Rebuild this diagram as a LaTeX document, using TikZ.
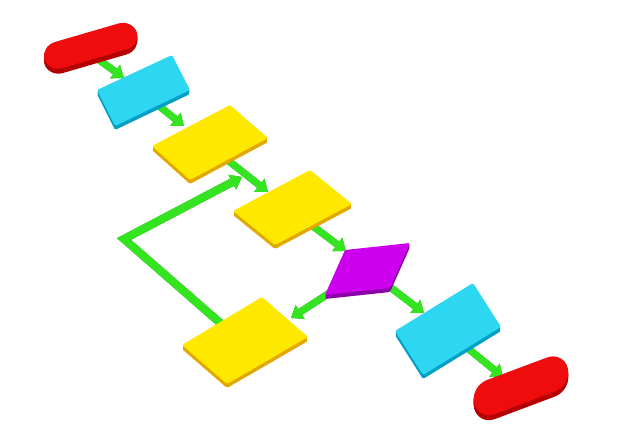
\documentclass[tikz,border=0pt]{standalone}
\usepackage{tikz}
\usetikzlibrary{arrows.meta}

\definecolor{termred}{RGB}{238,12,12}
\definecolor{termredside}{RGB}{180,0,0}
\definecolor{iocyan}{RGB}{45,215,242}
\definecolor{iocyanside}{RGB}{0,160,198}
\definecolor{procyellow}{RGB}{255,232,0}
\definecolor{procyellowside}{RGB}{226,168,0}
\definecolor{decmagenta}{RGB}{204,0,238}
\definecolor{decmagentaside}{RGB}{140,0,168}
\definecolor{flowgreen}{RGB}{52,228,32}
\definecolor{flowgreenside}{RGB}{26,150,16}

\tikzset{
  flow/.style = {line width = 7pt, color = flowgreen, line join = miter,
    -{Triangle[width = 16pt, length = 11pt]}},
  flowside/.style = {flow, color = flowgreenside, yshift = -1.5pt},
  loopflow/.style = {flow, line width = 8pt},
  loopflowside/.style = {loopflow, color = flowgreenside, yshift = -1.5pt}
}

% flat slab: top face #1, side #2, corners #3..#6
\newcommand{\slab}[6]{%
  \foreach \d in {1,...,4} {
    \fill[color = #2, rounded corners = 1.5pt, yshift = -\d pt] #3 -- #4 -- #5 -- #6 -- cycle;
  }
  \fill[color = #1, rounded corners = 1.5pt] #3 -- #4 -- #5 -- #6 -- cycle;
}

\begin{document}
\begin{tikzpicture}[x = 1pt, y = -1pt]
  \useasboundingbox (0, 0) rectangle (626, 444);
  \fill[white] (0, 0) rectangle (626, 444);

  % connector ends
  \coordinate (start-out) at (95, 57);
  \coordinate (input-in) at (124, 78);
  \coordinate (input-out) at (154, 102);
  \coordinate (step-a-in) at (184, 126);
  \coordinate (step-a-out) at (225, 158);
  \coordinate (step-b-in) at (268, 192);
  \coordinate (step-b-out) at (310, 224);
  \coordinate (choice-in) at (346, 251);
  \coordinate (choice-yes) at (386, 284);
  \coordinate (output-in) at (424, 313);
  \coordinate (output-out) at (465, 346);
  \coordinate (end-in) at (503, 377);
  \coordinate (choice-no) at (334, 290);
  \coordinate (step-c-in) at (291, 318);
  \coordinate (step-c-out) at (226, 328);
  \coordinate (loop-corner) at (124, 239);
  \coordinate (loop-in) at (242, 177);

  % arrows, under the blocks
  \draw[loopflowside] (step-c-out) -- (loop-corner) -- (loop-in);
  \draw[loopflow] (step-c-out) -- (loop-corner) -- (loop-in);

  \draw[flowside] (start-out) -- (input-in);
  \draw[flow] (start-out) -- (input-in);
  \draw[flowside] (input-out) -- (step-a-in);
  \draw[flow] (input-out) -- (step-a-in);
  \draw[flowside] (step-a-out) -- (step-b-in);
  \draw[flow] (step-a-out) -- (step-b-in);
  \draw[flowside] (step-b-out) -- (choice-in);
  \draw[flow] (step-b-out) -- (choice-in);
  \draw[flowside] (choice-yes) -- (output-in);
  \draw[flow] (choice-yes) -- (output-in);
  \draw[flowside] (output-out) -- (end-in);
  \draw[flow] (output-out) -- (end-in);
  \draw[flowside] (choice-no) -- (step-c-in);
  \draw[flow] (choice-no) -- (step-c-in);

  % start terminal
  \begin{scope}[shift = {(59, 55)}, x = {(0.96pt, 0.28pt)}, y = {(4pt, -13pt)}]
    \foreach \d in {1,...,5} {
      \fill[color = termredside, yshift = -\d pt] (0, -1) -- (66, -1)
        arc[start angle = -90, end angle = 90, x radius = 15, y radius = 1] -- (0, 1)
        arc[start angle = 90, end angle = 270, x radius = 15, y radius = 1] -- cycle;
    }
    \fill[color = termred] (0, -1) -- (66, -1)
      arc[start angle = -90, end angle = 90, x radius = 15, y radius = 1] -- (0, 1)
      arc[start angle = 90, end angle = 270, x radius = 15, y radius = 1] -- cycle;
  \end{scope}

  % blocks
  \slab{iocyan}{iocyanside}{(97, 90)}{(172, 55)}{(190, 90)}{(115, 126)}
  \slab{procyellow}{procyellowside}{(152, 146)}{(230, 105)}{(268, 138)}{(190, 180)}
  \slab{procyellow}{procyellowside}{(233, 211)}{(310, 170)}{(352, 204)}{(275, 245)}
  \slab{decmagenta}{decmagentaside}{(325, 295)}{(345, 250)}{(410, 243)}{(390, 288)}
  \slab{procyellow}{procyellowside}{(182, 345)}{(262, 297)}{(308, 337)}{(227, 384)}
  \slab{iocyan}{iocyanside}{(395, 331)}{(473, 283)}{(501, 327)}{(423, 375)}

  % end terminal
  \begin{scope}[shift = {(491, 397)}, x = {(0.936pt, 0.351pt)}, y = {(4pt, -17pt)}]
    \foreach \d in {1,...,5} {
      \fill[color = termredside, yshift = -\d pt] (0, -1) -- (64, -1)
        arc[start angle = -90, end angle = 90, x radius = 18, y radius = 1] -- (0, 1)
        arc[start angle = 90, end angle = 270, x radius = 18, y radius = 1] -- cycle;
    }
    \fill[color = termred] (0, -1) -- (64, -1)
      arc[start angle = -90, end angle = 90, x radius = 18, y radius = 1] -- (0, 1)
      arc[start angle = 90, end angle = 270, x radius = 18, y radius = 1] -- cycle;
  \end{scope}
\end{tikzpicture}
\end{document}
